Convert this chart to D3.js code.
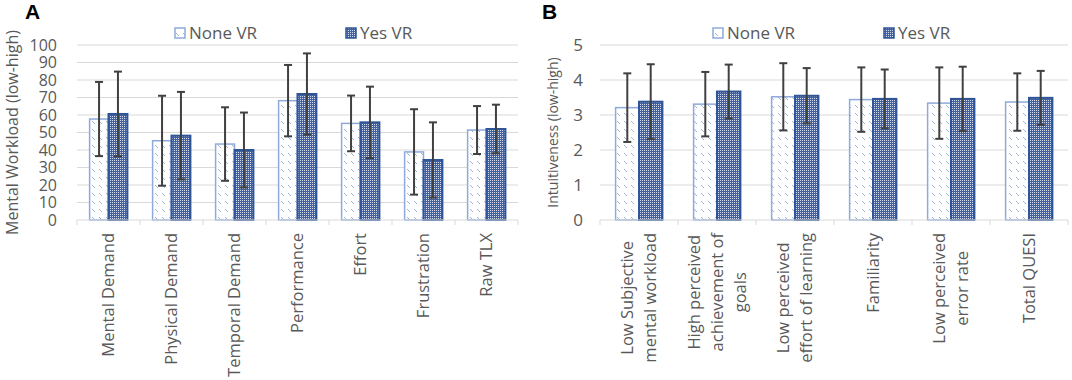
<!DOCTYPE html>
<html>
<head>
<meta charset="utf-8">
<script src="https://cdn.jsdelivr.net/npm/d3@7"></script>
<style>
  body { margin: 0; background: #fff; }
  text { font-family: "Open Sans", "Noto Sans", sans-serif; }
</style>
</head>
<body>
<svg id="chart" width="1072" height="380"></svg>
<script>
// ---- panel A: NASA TLX ----
const tlxCategories = ['Mental Demand', 'Physical Demand', 'Temporal Demand', 'Performance', 'Effort', 'Frustration', 'Raw TLX'];
const tlxNone = [57.7, 45.3, 43.4, 68.2, 55.2, 38.9, 51.4];
const tlxNoneSd = [21.2, 25.7, 21.0, 20.4, 15.9, 24.4, 13.7];
const tlxYes = [60.6, 48.2, 40.0, 72.0, 55.8, 34.3, 52.0];
const tlxYesSd = [24.2, 25.0, 21.4, 23.2, 20.4, 21.5, 13.9];
const tlxTicks = [0, 10, 20, 30, 40, 50, 60, 70, 80, 90, 100];

// ---- panel B: QUESI ----
const quesiCategories = [
  ['Low Subjective', 'mental workload'],
  ['High perceived', 'achievement of', 'goals'],
  ['Low perceived', 'effort of learning'],
  ['Familiarity'],
  ['Low perceived', 'error rate'],
  ['Total QUESI']
];
const quesiNone = [3.21, 3.31, 3.52, 3.44, 3.34, 3.37];
const quesiNoneSd = [0.98, 0.92, 0.96, 0.92, 1.02, 0.82];
const quesiYes = [3.38, 3.67, 3.55, 3.46, 3.46, 3.49];
const quesiYesSd = [1.07, 0.77, 0.79, 0.84, 0.92, 0.77];
const quesiTicks = [0, 1, 2, 3, 4, 5];

const seriesNames = ['None VR', 'Yes VR'];

const svg = d3.select('#chart');
const textColor = '#595959';
const gridColor = '#d9d9d9';

// fill patterns
const defs = svg.append('defs');
const pNone = defs.append('pattern').attr('id', 'pat-none')
   .attr('patternUnits', 'userSpaceOnUse').attr('width', 7).attr('height', 8);
pNone.append('rect').attr('width', 7).attr('height', 8).attr('fill', '#fff');
pNone.append('line').attr('x1', 1).attr('y1', 1).attr('x2', 4).attr('y2', 4)
   .attr('stroke', '#9fb3d6').attr('stroke-width', 1);
const pYes = defs.append('pattern').attr('id', 'pat-yes')
   .attr('patternUnits', 'userSpaceOnUse').attr('width', 2).attr('height', 2);
pYes.append('rect').attr('width', 2).attr('height', 2).attr('fill', '#42619e');
pYes.append('rect').attr('width', 1).attr('height', 1).attr('fill', '#d3dbeb');

const seriesStyle = [
   { fill: 'url(#pat-none)', stroke: '#8eaadb', width: 1.5 },
   { fill: 'url(#pat-yes)', stroke: '#2f5597', width: 2 }
];

function drawPanel(o) {
   const g = svg.append('g');
   const x = d3.scaleBand().domain(d3.range(o.categories.length)).range([o.left, o.right]);
   const y = d3.scaleLinear().domain([0, o.max]).range([o.bottom, o.top]);
   const bw = x.bandwidth();
   const x1 = d3.scaleBand().domain([0, 1]).range([bw * 0.2, bw * 0.8]);

   // gridlines
   g.selectAll('.grid').data(o.ticks.filter(t => t > 0)).join('line')
      .attr('x1', o.left).attr('x2', o.right)
      .attr('y1', d => y(d)).attr('y2', d => y(d))
      .attr('stroke', gridColor).attr('stroke-width', 1);

   // y tick labels
   g.selectAll('.ylab').data(o.ticks).join('text')
      .attr('x', o.left - o.tickGap).attr('y', d => y(d)).attr('dy', '0.35em')
      .attr('text-anchor', 'end').attr('fill', textColor)
      .style('font-size', o.tickSize + 'px').text(d => d);

   // y title
   g.append('text')
      .attr('transform', `translate(${o.titleX},${(o.top + o.bottom) / 2}) rotate(-90)`)
      .attr('text-anchor', 'middle').attr('dy', '0.35em').attr('fill', textColor)
      .style('font-size', o.titleSize + 'px').text(o.yTitle);

   // bars
   const series = [
      { vals: o.none, sd: o.noneSd },
      { vals: o.yes, sd: o.yesSd }
   ];
   series.forEach((s, si) => {
      const st = seriesStyle[si];
      g.selectAll('.bar' + si).data(s.vals).join('rect')
         .attr('x', (d, i) => x(i) + x1(si))
         .attr('y', d => y(d))
         .attr('width', x1.bandwidth())
         .attr('height', d => y(0) - y(d))
         .attr('fill', st.fill).attr('stroke', st.stroke).attr('stroke-width', st.width);
   });

   // error bars
   series.forEach((s, si) => {
      const eg = g.selectAll('.err' + si).data(s.vals).join('g')
         .attr('stroke', '#404040').attr('stroke-width', 2);
      const cx = (d, i) => x(i) + x1(si) + x1.bandwidth() / 2;
      eg.append('line')
         .attr('x1', cx).attr('x2', cx)
         .attr('y1', (d, i) => y(d - s.sd[i])).attr('y2', (d, i) => y(d + s.sd[i]));
      ['-', '+'].forEach(sign => {
         eg.append('line')
            .attr('x1', (d, i) => cx(d, i) - 4).attr('x2', (d, i) => cx(d, i) + 4)
            .attr('y1', (d, i) => y(sign === '+' ? d + s.sd[i] : d - s.sd[i]))
            .attr('y2', (d, i) => y(sign === '+' ? d + s.sd[i] : d - s.sd[i]));
      });
   });

   // baseline with category ticks
   g.append('line').attr('x1', o.left).attr('x2', o.right)
      .attr('y1', o.bottom).attr('y2', o.bottom).attr('stroke', gridColor);
   const bounds = d3.range(o.categories.length + 1).map(i => o.left + i * x.step());
   g.selectAll('.xtick').data(bounds).join('line')
      .attr('x1', d => d).attr('x2', d => d)
      .attr('y1', o.bottom).attr('y2', o.bottom + 5).attr('stroke', gridColor);

   // category labels (rotated, multi-line centred)
   o.categories.forEach((c, i) => {
      const lines = Array.isArray(c) ? c : [c];
      const cx = x(i) + bw / 2;
      const lt = g.append('g');
      const texts = lines.map((ln, li) => lt.append('text')
         .attr('fill', textColor).style('font-size', o.labelSize + 'px')
         .attr('text-anchor', 'middle').text(ln));
      const maxLen = d3.max(texts, t => t.node().getComputedTextLength());
      const cy = o.bottom + 13 + maxLen / 2;
      texts.forEach((t, li) => {
         const off = (li - (lines.length - 1) / 2) * o.lineGap;
         t.attr('transform', `translate(${cx + off},${cy}) rotate(-90)`).attr('dy', '0.35em');
      });
   });

   // legend
   o.legend.forEach((lx, si) => {
      const st = seriesStyle[si];
      g.append('rect').attr('x', lx).attr('y', 28).attr('width', 10).attr('height', 10)
         .attr('fill', st.fill).attr('stroke', st.stroke).attr('stroke-width', 1.5);
      g.append('text').attr('x', lx + 14).attr('y', 33).attr('dy', '0.35em')
         .attr('fill', textColor).style('font-size', '17px').text(seriesNames[si]);
   });

   // panel letter
   g.append('text').attr('x', o.letterX).attr('y', 19)
      .style('font-family', 'Liberation Sans, Arial, sans-serif')
      .style('font-weight', 'bold').style('font-size', '21px').attr('fill', '#000').text(o.letter);
}

drawPanel({
   letter: 'A', letterX: 25,
   categories: tlxCategories, none: tlxNone, noneSd: tlxNoneSd, yes: tlxYes, yesSd: tlxYesSd,
   ticks: tlxTicks, max: 100,
   left: 77, right: 518, top: 45, bottom: 220,
   tickGap: 20, tickSize: 16, titleX: 12, titleSize: 16,
   yTitle: 'Mental Workload (low-high)', labelSize: 16.5, lineGap: 23,
   legend: [175, 346]
});

drawPanel({
   letter: 'B', letterX: 542,
   categories: quesiCategories, none: quesiNone, noneSd: quesiNoneSd, yes: quesiYes, yesSd: quesiYesSd,
   ticks: quesiTicks, max: 5,
   left: 600, right: 1068, top: 45, bottom: 220,
   tickGap: 17, tickSize: 17, titleX: 553, titleSize: 14,
   yTitle: 'Intuitiveness (low-high)', labelSize: 16.5, lineGap: 23,
   legend: [713, 884]
});
</script>
</body>
</html>
